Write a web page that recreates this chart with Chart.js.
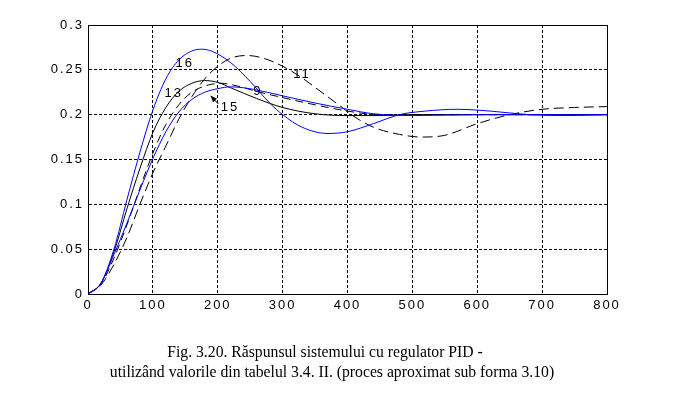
<!DOCTYPE html>
<html><head><meta charset="utf-8">
<script src="https://cdn.jsdelivr.net/npm/chart.js@4"></script>
<style>
html,body{margin:0;padding:0;background:#fff;}
#wrap{position:relative;width:673px;height:397px;}
canvas{position:absolute;left:0;top:0;}
.cap{position:absolute;font-family:"Liberation Serif","Times New Roman",serif;font-size:15.7px;color:#000;white-space:nowrap;transform:translateX(-50%);}
</style></head>
<body>
<div id="wrap">
<canvas id="c" width="673" height="397"></canvas>
<div class="cap" id="cap1" style="left:325px;top:343px;"></div>
<div class="cap" id="cap2" style="left:332px;top:363px;"></div>
</div>
<script>
// ---- data ----
const xTicks = [0,100,200,300,400,500,600,700,800];
const yTicks = [0,0.05,0.1,0.15,0.2,0.25,0.3];
const yTickLabels = ["0","0.05","0.1","0.15","0.2","0.25","0.3"];

const t16 = [0,20,40,60,80,100,120,140,160,175,190,220,250,280,300,330,370,400,440,480,520,570,620,680,740,800];
const y16 = [0,0.012,0.05,0.105,0.158,0.205,0.24,0.261,0.271,0.273,0.271,0.258,0.237,0.213,0.2,0.186,0.179,0.181,0.19,0.2,0.204,0.206,0.204,0.2,0.199,0.2];

const t15 = [0,20,40,60,80,100,120,140,160,180,200,220,240,270,300,350,400,440,500,600,800];
const y15 = [0,0.012,0.044,0.079,0.116,0.151,0.181,0.203,0.217,0.225,0.229,0.231,0.23,0.226,0.221,0.213,0.206,0.201,0.199,0.2,0.2];

const t13 = [0,20,40,60,80,100,120,140,160,180,200,220,260,300,350,400,450,500,800];
const y13 = [0,0.012,0.047,0.095,0.14,0.18,0.208,0.226,0.235,0.238,0.236,0.23,0.218,0.208,0.201,0.199,0.199,0.2,0.2];

const t11 = [0,20,40,60,80,100,120,140,160,180,200,220,245,270,300,330,360,390,410,440,480,515,550,600,650,700,750,800];
const y11 = [0,0.01,0.033,0.063,0.1,0.135,0.165,0.195,0.22,0.24,0.254,0.263,0.266,0.263,0.254,0.241,0.225,0.209,0.198,0.186,0.178,0.175,0.177,0.19,0.2,0.206,0.208,0.209];

const t9 = [0,20,40,60,80,100,120,140,160,185,205,230,260,300,350,400,450,800];
const y9 = [0,0.011,0.04,0.077,0.118,0.157,0.189,0.211,0.225,0.233,0.235,0.232,0.226,0.219,0.211,0.204,0.2,0.2];

const curveNames = ["16","15","13","11","9"];
const labelText = ["16","13","15","9","11"];
const labelX = [149,132,219,262,330];
const labelY = [0.2567,0.2233,0.2078,0.2256,0.2444];
const arrowFrom = [201,0.2119];
const arrowTo = [189,0.2211];

const caption1 = "Fig. 3.20. Răspunsul sistemului cu regulator PID -";
const caption2 = "utilizând valorile din tabelul 3.4. II. (proces aproximat sub forma 3.10)";
document.getElementById('cap1').textContent = caption1;
document.getElementById('cap2').textContent = caption2;

function pts(t,y){return t.map((v,i)=>({x:v,y:y[i]}));}

const FONT = '"Liberation Sans", Arial, sans-serif';
const boxPlugin = {
  id:'box',
  beforeDraw(chart){ chart.ctx.letterSpacing = '2px'; },
  afterDraw(chart){
    const {ctx, chartArea:a, scales} = chart;
    ctx.save();
    ctx.strokeStyle='#000'; ctx.lineWidth=1; ctx.setLineDash([]);
    ctx.strokeRect(Math.round(a.left)+0.5,Math.round(a.top)+0.5,Math.round(a.right-a.left),Math.round(a.bottom-a.top));
    ctx.fillStyle='#000';
    ctx.font='13px '+FONT;
    ctx.letterSpacing='2px';
    ctx.textAlign='center'; ctx.textBaseline='middle';
    labelText.forEach((s,i)=>{
      ctx.fillText(s, scales.x.getPixelForValue(labelX[i]), scales.y.getPixelForValue(labelY[i]));
    });
    const x1=scales.x.getPixelForValue(arrowFrom[0]), y1=scales.y.getPixelForValue(arrowFrom[1]);
    const x2=scales.x.getPixelForValue(arrowTo[0]), y2=scales.y.getPixelForValue(arrowTo[1]);
    ctx.beginPath(); ctx.moveTo(x1,y1); ctx.lineTo(x2,y2); ctx.stroke();
    const ang=Math.atan2(y2-y1,x2-x1), L=7, w=0.4;
    ctx.beginPath(); ctx.moveTo(x2,y2);
    ctx.lineTo(x2-L*Math.cos(ang-w), y2-L*Math.sin(ang-w));
    ctx.lineTo(x2-L*Math.cos(ang+w), y2-L*Math.sin(ang+w));
    ctx.closePath(); ctx.fill();
    ctx.restore();
    ctx.letterSpacing='0px';
  }
};

const common = {fill:false,pointRadius:0,borderWidth:1,cubicInterpolationMode:'monotone'};
new Chart(document.getElementById('c'),{
  type:'line',
  data:{datasets:[
    Object.assign({label:curveNames[0],data:pts(t16,y16),borderColor:'#0000ff'},common),
    Object.assign({label:curveNames[1],data:pts(t15,y15),borderColor:'#0000ff'},common),
    Object.assign({label:curveNames[2],data:pts(t13,y13),borderColor:'#000000'},common),
    Object.assign({label:curveNames[3],data:pts(t11,y11),borderColor:'#000000',borderDash:[10,5]},common),
    Object.assign({label:curveNames[4],data:pts(t9,y9),borderColor:'#000000',borderDash:[8,5]},common)
  ]},
  options:{
    responsive:false,animation:false,
    layout:{padding:{left:0,right:66,top:25,bottom:83}},
    plugins:{legend:{display:false},tooltip:{enabled:false}},
    scales:{
      x:{type:'linear',min:0,max:800,
        afterBuildTicks(s){s.ticks=xTicks.map(v=>({value:v}));},
        afterFit(s){s.height=20;},
        grid:{color:'#000',lineWidth:1,drawTicks:false},
        border:{display:true,color:'#000',dash:[3,2]},
        ticks:{color:'#000',padding:4,maxRotation:0,font:{family:FONT,size:13}}
      },
      y:{type:'linear',min:0,max:0.3,
        afterBuildTicks(s){s.ticks=yTicks.map(v=>({value:v}));},
        afterFit(s){s.width=88;},
        grid:{color:'#000',lineWidth:1,drawTicks:false},
        border:{display:true,color:'#000',dash:[3,2]},
        ticks:{color:'#000',padding:4,font:{family:FONT,size:13},
          callback(v,i){return yTickLabels[i];}}
      }
    }
  },
  plugins:[boxPlugin]
});
</script>
</body></html>
